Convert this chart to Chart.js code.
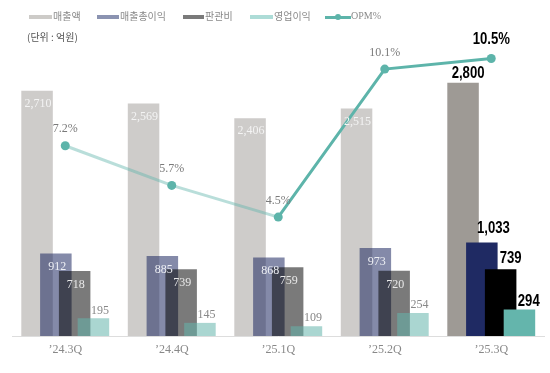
<!DOCTYPE html>
<html>
<head>
<meta charset="utf-8">
<script src="https://cdn.jsdelivr.net/npm/chart.js@4"></script>
<style>
  body { margin: 0; background: #fff; }
  #wrap { position: relative; width: 550px; height: 373px; }
  .lg { position: absolute; font-family: "Noto Sans CJK KR", sans-serif; font-size: 10px; color: #8a8a8a; line-height: 12px; white-space: nowrap; }
  .box { position: absolute; height: 4px; }
</style>
</head>
<body>
<div id="wrap">
  <canvas id="chart" width="550" height="373"></canvas>
  <div class="box" style="left:29px;top:15px;width:23px;background:#cdcbc8"></div>
  <div class="lg" style="left:53px;top:10px">매출액</div>
  <div class="box" style="left:97px;top:15px;width:22px;background:#8b93b1"></div>
  <div class="lg" style="left:120px;top:10px">매출총이익</div>
  <div class="box" style="left:183px;top:15px;width:21px;background:#7a7a7a"></div>
  <div class="lg" style="left:205px;top:10px">판관비</div>
  <div class="box" style="left:250px;top:15px;width:23px;background:#addcd7"></div>
  <div class="lg" style="left:274px;top:10px">영업이익</div>
  <div class="box" style="left:325px;top:15.5px;width:26px;height:3px;background:#5db4aa"></div>
  <div class="box" style="left:335px;top:14px;width:6px;height:6px;border-radius:3px;background:#5db4aa"></div>
  <div class="lg" style="left:351px;top:10px;font-family:'Liberation Serif',serif">OPM%</div>
  <div class="lg" style="left:27px;top:31px;color:#555">(단위 : 억원)</div>
</div>
<script>
// values (unit: 억원, OPM in %)
const quarters = ['’24.3Q', '’24.4Q', '’25.1Q', '’25.2Q', '’25.3Q'];
const sales = [2710, 2569, 2406, 2515, 2800];
const grossProfit = [912, 885, 868, 973, 1033];
const sga = [718, 739, 759, 720, 739];
const opProfit = [195, 145, 109, 254, 294];
const opm = [7.2, 5.7, 4.5, 10.1, 10.5];

// past quarters are faded, the latest one is solid
function quarterColors(past, current) {
  return quarters.map((q, i) => (i === quarters.length - 1 ? current : past));
}

const lightTeal = 'rgba(100,181,172,0.45)';
const darkTeal = '#5db4aa';

// label placement per dataset: [past quarters, latest quarter]
const labelStyles = [
  { past: { inside: true, dx: 1, dy: 13, color: '#f4f4f4' }, last: { dx: 5, dy: -9.5 } },
  { past: { inside: true, dx: 1.3, dy: 13.5, color: '#eef0f5' }, last: { dx: 11.6, dy: -13.7 } },
  { past: { inside: true, dx: 1.2, dy: 13.5, color: '#e8e8e8' }, last: { dx: 10, dy: -10.3 } },
  { past: { dx: 6.6, dy: -8, color: '#888888' }, last: { dx: 9.3, dy: -8 } },
  { past: { dx: 0, dy: -16.5, color: '#7a7a7a' }, last: { dx: 0, dy: -19 } },
];

// draw datasets in index order so the right-hand bars sit on top
const drawInIndexOrder = {
  id: 'drawInIndexOrder',
  beforeDatasetsDraw(chart) {
    chart.data.datasets.forEach((ds, i) => {
      if (chart.isDatasetVisible(i)) chart.getDatasetMeta(i).controller.draw();
    });
    return false;
  }
};

const valueLabels = {
  id: 'valueLabels',
  afterDraw(chart) {
    const ctx = chart.ctx;
    ctx.textAlign = 'center';
    ctx.textBaseline = 'middle';
    chart.data.datasets.forEach((ds, di) => {
      const meta = chart.getDatasetMeta(di);
      meta.data.forEach((el, i) => {
        const isLast = i === ds.data.length - 1;
        const st = isLast ? labelStyles[di].last : labelStyles[di].past;
        const v = ds.data[i];
        const text = ds.type === 'line' ? v.toFixed(1) + '%' : v.toLocaleString('en-US');
        ctx.save();
        ctx.translate(el.x + st.dx, el.y + st.dy);
        if (isLast) {
          // bold narrow look for the latest quarter
          ctx.scale(0.82, 1);
          ctx.font = 'bold 16px "Liberation Sans", sans-serif';
          ctx.fillStyle = '#000';
        } else {
          ctx.font = '12px "Liberation Serif", serif';
          ctx.fillStyle = st.color;
        }
        ctx.fillText(text, 0, 0);
        ctx.restore();
      });
    });
  }
};

const barOpts = {
  categoryPercentage: 0.706,
  barPercentage: 1.676,
  borderWidth: 0,
  yAxisID: 'y',
};

new Chart(document.getElementById('chart'), {
  type: 'bar',
  data: {
    labels: quarters,
    datasets: [
      { label: '매출액', data: sales, backgroundColor: quarterColors('rgba(158,154,149,0.5)', '#9e9a95'), ...barOpts },
      { label: '매출총이익', data: grossProfit, backgroundColor: quarterColors('rgba(31,42,99,0.55)', '#1f2a63'), ...barOpts },
      { label: '판관비', data: sga, backgroundColor: quarterColors('rgba(0,0,0,0.52)', '#000000'), ...barOpts },
      { label: '영업이익', data: opProfit, backgroundColor: quarterColors('rgba(100,181,172,0.55)', '#64b5ac'), ...barOpts },
      {
        type: 'line',
        label: 'OPM%',
        data: opm,
        yAxisID: 'y1',
        borderWidth: 3,
        borderColor: darkTeal,
        segment: {
          borderColor: c => (c.p0DataIndex < 2 ? lightTeal : darkTeal),
        },
        pointRadius: 4.5,
        pointBackgroundColor: darkTeal,
        pointBorderWidth: 0,
        tension: 0,
      },
    ],
  },
  options: {
    responsive: false,
    animation: false,
    layout: { padding: { left: 12, right: 5.5, top: 37.4, bottom: 8.6 } },
    plugins: {
      legend: { display: false },
      tooltip: { enabled: false },
    },
    scales: {
      x: {
        offset: true,
        grid: { display: false, drawTicks: false },
        border: { display: true, color: '#dddddd', width: 1 },
        ticks: {
          color: '#888888',
          padding: 7,
          font: { family: 'Liberation Serif', size: 12 },
        },
      },
      y: { display: false, min: 0, max: 3300 },
      y1: { display: false, min: 0, max: 11.3, position: 'right' },
    },
  },
  plugins: [drawInIndexOrder, valueLabels],
});
</script>
</body>
</html>
